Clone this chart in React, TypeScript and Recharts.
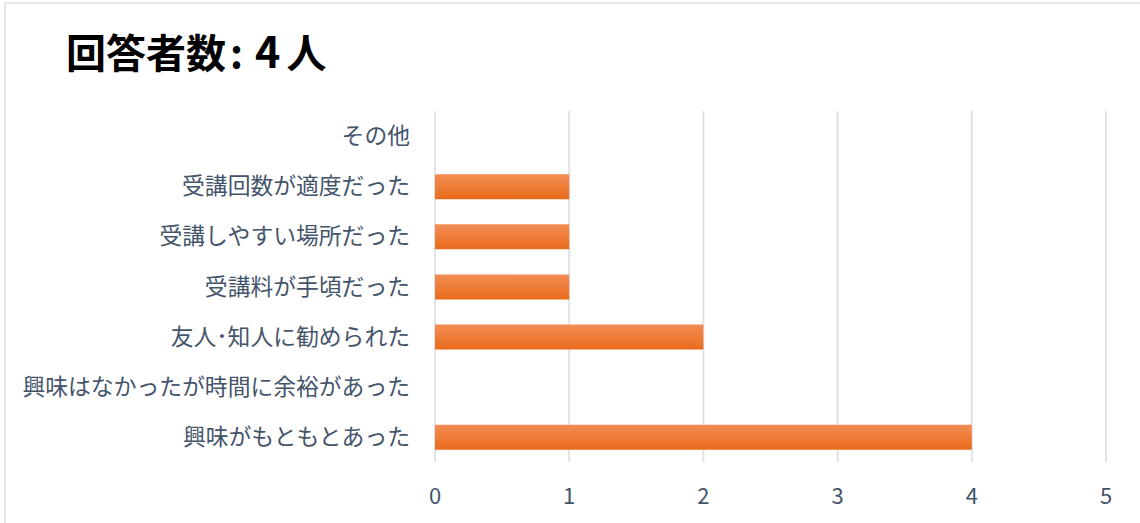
import React from "react";
import { Bar, BarChart, CartesianGrid, XAxis, YAxis } from "recharts";

const categories = [
  "その他",
  "受講回数が適度だった",
  "受講しやすい場所だった",
  "受講料が手頃だった",
  "友人･知人に勧められた",
  "興味はなかったが時間に余裕があった",
  "興味がもともとあった",
];
const counts = [0, 1, 1, 1, 2, 0, 4];
const xTicks = [0, 1, 2, 3, 4, 5];

const data = categories.map((name, i) => ({ name, count: counts[i] }));

const font = "'Noto Sans CJK JP', 'Noto Sans', sans-serif";
const textColor = "#44546a";

export default function App() {
  return (
    <div
      style={{
        position: "absolute",
        left: 0,
        top: 0,
        width: 1140,
        height: 523,
        background: "#fff",
        fontFamily: font,
        overflow: "hidden",
      }}
    >
      <div
        style={{
          position: "absolute",
          left: 4,
          top: 2,
          width: 1160,
          height: 540,
          border: "2px solid #e3e6ea",
          boxSizing: "border-box",
        }}
      />
      <div
        style={{
          position: "absolute",
          left: 66,
          top: 19,
          fontSize: 40,
          fontWeight: 700,
          color: "#000",
          lineHeight: "60px",
          whiteSpace: "nowrap",
        }}
      >
        回答者数<span style={{ marginLeft: 4, marginRight: 12 }}>:</span>
        <span style={{ fontSize: 43, marginRight: 6 }}>4</span>人
      </div>
      <div style={{ position: "absolute", left: 0, top: 0 }}>
        <BarChart
          width={1140}
          height={523}
          data={data}
          layout="vertical"
          margin={{ top: 111, right: 34, bottom: 0, left: 0 }}
          barSize={25}
        >
          <defs>
            <linearGradient id="barFill" x1="0" y1="0" x2="0" y2="1">
              <stop offset="0%" stopColor="#f28d55" />
              <stop offset="100%" stopColor="#e96b1a" />
            </linearGradient>
          </defs>
          <CartesianGrid horizontal={false} stroke="#dfe2e6" strokeWidth={2} />
          <XAxis
            type="number"
            domain={[0, 5]}
            ticks={xTicks}
            height={61}
            axisLine={false}
            tickLine={false}
            tickSize={0}
            tickMargin={26}
            tick={{ fill: textColor, fontSize: 22, fontFamily: font }}
          />
          <YAxis
            type="category"
            dataKey="name"
            width={435}
            axisLine={false}
            tickLine={false}
            tickSize={0}
            tickMargin={25}
            interval={0}
            tick={{ fill: textColor, fontSize: 22.8, fontFamily: font }}
          />
          <Bar dataKey="count" fill="url(#barFill)" isAnimationActive={false} />
        </BarChart>
      </div>
    </div>
  );
}
